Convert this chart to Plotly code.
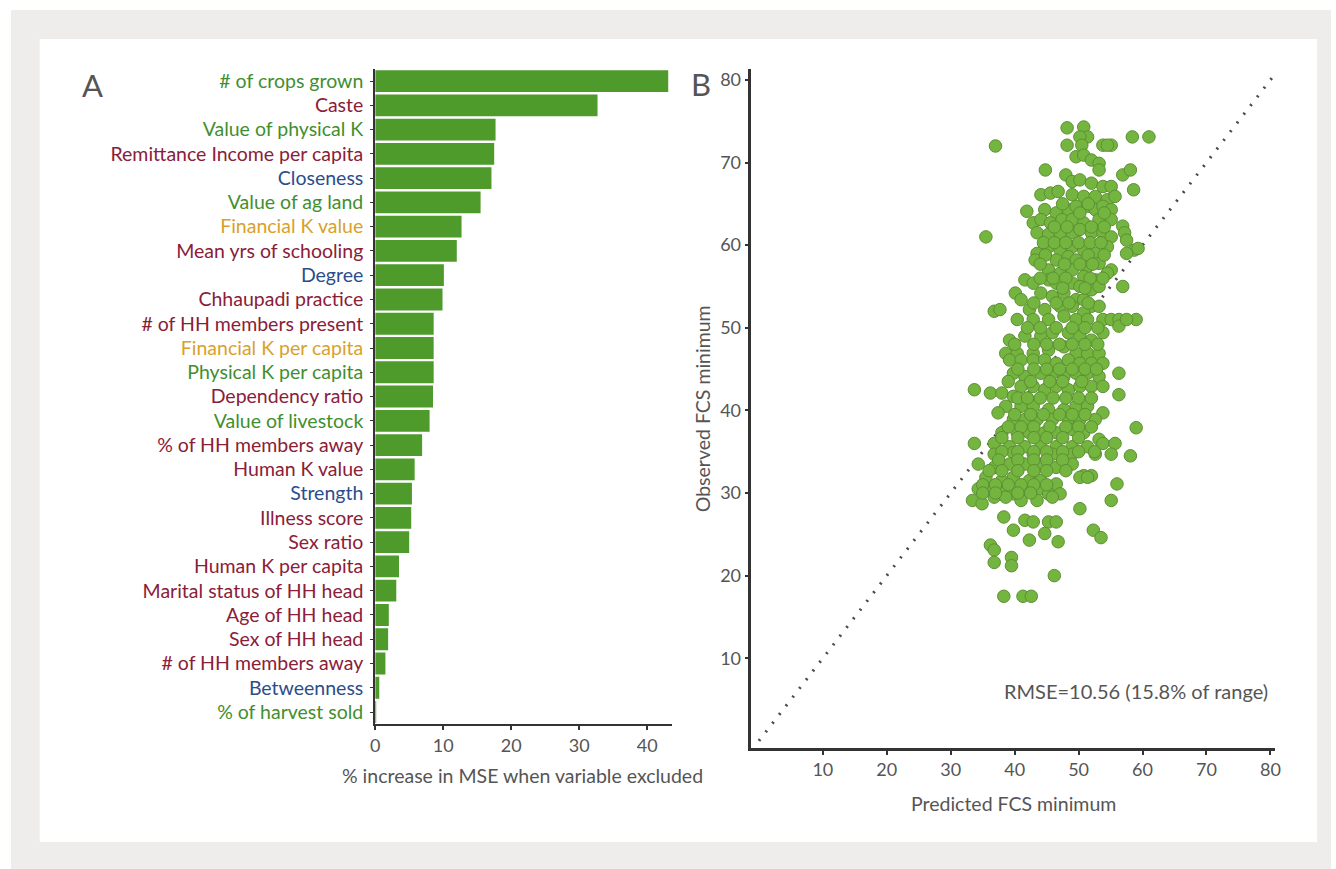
import plotly.graph_objects as go

# ---------------- Panel A data ----------------
categories = [
    "# of crops grown", "Caste", "Value of physical K", "Remittance Income per capita",
    "Closeness", "Value of ag land", "Financial K value", "Mean yrs of schooling",
    "Degree", "Chhaupadi practice", "# of HH members present", "Financial K per capita",
    "Physical K per capita", "Dependency ratio", "Value of livestock", "% of HH members away",
    "Human K value", "Strength", "Illness score", "Sex ratio", "Human K per capita",
    "Marital status of HH head", "Age of HH head", "Sex of HH head", "# of HH members away",
    "Betweenness", "% of harvest sold",
]
mse_increase = [
    43.1, 32.7, 17.7, 17.5, 17.1, 15.5, 12.7, 12.0, 10.1, 9.9, 8.6, 8.6, 8.6, 8.5, 8.0,
    6.9, 5.8, 5.4, 5.3, 5.0, 3.5, 3.1, 2.0, 1.9, 1.5, 0.6, 0.1,
]
capital_type = [
    "natural", "human", "natural", "human", "network", "natural", "financial", "human",
    "network", "human", "human", "financial", "natural", "human", "natural", "human",
    "human", "network", "human", "human", "human", "human", "human", "human", "human",
    "network", "natural",
]
type_colors = {"natural": "#3f8f2f", "human": "#8a2038", "network": "#2c4d8c", "financial": "#d9a12b"}
bar_ticks = [0, 10, 20, 30, 40]

# ---------------- Panel B data ----------------
points = [
    (48.2, 74.2), (50.8, 74.3), (51.4, 73.1), (50.2, 73.1), (48.2, 72.1), (50.5, 72.1), (53.8, 72.1),
    (55.1, 72.1), (54.5, 72.1), (58.4, 73.1), (61.0, 73.1), (37.0, 72.0),
    (49.6, 70.7), (50.8, 70.9), (52.0, 70.3), (53.2, 69.9), (53.2, 69.1), (44.8, 69.1), (48.0, 68.5),
    (56.9, 68.5), (58.1, 69.1),
    (49.0, 67.7), (50.2, 67.9), (52.0, 67.5), (53.8, 67.1), (55.1, 67.1), (58.6, 66.7),
    (44.1, 66.1), (45.6, 66.3), (46.8, 66.5), (49.0, 66.1), (50.8, 65.9), (52.6, 65.9), (54.5, 65.5), (55.7, 65.9),
    (41.9, 64.1), (44.7, 64.3), (46.5, 63.9), (48.4, 64.3), (49.6, 64.7), (51.4, 64.7), (52.6, 64.3), (53.8, 64.7), (55.1, 64.3),
    (42.9, 62.7), (44.1, 63.1), (45.6, 62.7), (47.4, 63.1), (49.0, 63.1), (50.8, 62.7), (53.2, 63.1), (55.1, 63.1),
    (56.9, 62.3), (57.2, 61.5),
    (43.5, 61.5), (45.3, 61.3), (47.1, 61.5), (49.0, 61.5), (50.2, 61.9), (52.0, 61.5), (53.8, 61.5), (55.1, 61.0),
    (35.5, 61.0),
    (57.5, 60.6), (58.7, 59.4), (59.3, 59.6), (57.5, 59.0),
    (43.5, 59.0), (43.2, 58.2), (45.3, 59.8), (47.1, 59.4), (49.0, 59.8), (50.8, 59.4), (52.6, 59.0), (54.5, 59.8),
    (46.5, 58.2), (48.4, 58.6), (49.6, 58.2), (51.4, 57.4), (53.2, 57.8), (55.1, 57.0),
    (45.3, 57.0), (47.1, 56.6), (49.0, 57.0), (50.8, 56.2), (52.6, 55.8), (54.5, 56.6),
    (41.6, 55.8), (42.9, 55.4),
    (45.3, 55.8), (46.5, 55.4), (49.0, 55.4), (50.2, 55.0), (52.0, 54.6), (53.2, 55.0),
    (56.9, 55.0),
    (40.1, 54.2), (41.0, 53.4),
    (44.1, 54.2), (45.9, 53.8), (47.7, 54.2), (49.6, 53.4), (50.8, 53.4), (52.0, 52.6), (53.2, 52.6),
    (36.8, 52.0), (37.7, 52.2),
    (42.3, 52.2), (44.7, 52.2), (47.1, 52.6), (49.0, 52.6), (50.8, 51.8),
    (40.4, 51.0), (42.9, 51.0), (45.3, 51.0), (47.7, 51.4), (49.6, 51.0), (51.4, 51.0), (53.8, 51.0),
    (55.1, 51.0), (56.3, 51.0), (59.0, 51.0), (56.3, 50.2), (57.5, 51.0),
    (39.2, 48.5), (41.6, 49.0), (44.1, 49.0), (45.9, 49.4), (48.4, 49.4), (50.2, 49.0), (52.0, 48.5), (53.8, 49.4),
    (38.6, 46.9), (40.4, 46.9), (42.9, 46.9), (45.3, 47.3), (47.7, 47.7), (49.6, 46.9), (51.4, 46.9), (53.2, 46.9),
    (39.2, 46.1), (41.0, 46.1), (42.9, 46.1), (44.7, 46.1), (46.5, 45.7), (48.4, 46.1), (50.2, 45.7), (52.0, 45.7), (53.8, 45.7),
    (56.3, 44.5),
    (39.8, 44.5), (41.6, 44.1), (44.1, 44.5), (45.9, 44.5), (47.7, 44.1), (49.6, 44.5), (51.4, 44.5), (53.2, 44.1),
    (41.0, 42.9), (42.9, 42.9), (44.7, 42.5), (46.5, 42.9), (48.4, 42.5), (50.2, 42.9), (52.0, 42.9), (53.8, 42.9),
    (33.7, 42.5), (36.2, 42.1), (38.0, 42.1), (39.8, 41.7),
    (56.3, 41.9),
    (38.6, 40.5), (41.0, 40.5), (42.9, 40.5), (45.3, 40.1), (47.7, 40.1), (49.6, 40.5), (51.4, 40.5), (53.8, 39.7),
    (37.4, 39.7), (39.8, 38.9), (41.6, 38.9), (43.5, 38.9), (45.9, 38.9), (48.4, 38.9), (50.2, 38.9), (52.6, 38.9),
    (59.0, 37.9),
    (38.0, 37.3), (40.4, 37.3), (42.3, 37.3), (44.7, 37.3), (46.5, 37.3), (49.0, 37.7), (50.8, 37.3), (53.2, 36.5),
    (33.7, 36.0),
    (36.8, 36.0), (39.2, 35.6), (41.6, 35.6), (44.1, 35.6), (46.5, 35.6), (49.0, 35.6), (51.4, 35.6), (53.8, 36.0), (55.7, 36.0),
    (36.8, 34.7), (39.8, 34.9), (42.9, 34.7), (45.9, 34.7), (49.0, 34.7), (52.6, 34.7), (55.1, 34.7), (58.1, 34.5),
    (34.3, 33.5), (36.8, 33.1), (39.2, 33.5), (41.6, 33.5), (44.1, 33.5), (46.5, 33.1), (49.0, 33.5), (50.8, 32.1), (52.0, 32.1),
    (35.5, 31.9), (38.0, 31.5), (39.8, 31.9), (42.3, 31.5), (44.1, 31.5), (46.5, 31.1), (50.2, 31.9), (51.4, 31.9),
    (56.0, 31.1),
    (34.3, 30.5), (36.2, 30.3), (38.0, 29.9), (39.8, 29.9), (41.6, 30.3), (43.5, 30.3), (45.3, 29.9), (47.1, 29.9),
    (33.4, 29.1), (34.9, 28.7), (36.8, 29.5), (38.6, 29.5), (41.0, 29.1), (43.5, 29.1), (45.9, 29.5),
    (50.2, 28.1), (55.1, 29.1),
    (38.3, 27.1), (41.6, 26.7), (42.9, 26.5), (39.8, 25.5), (45.3, 26.5), (46.5, 26.5), (44.7, 25.1), (46.8, 24.1),
    (42.3, 24.3), (52.3, 25.5), (53.5, 24.6), (36.2, 23.7), (36.8, 23.1), (39.5, 22.2), (39.5, 21.2), (36.8, 21.6),
    (46.2, 20.0), (38.3, 17.5), (41.3, 17.5), (42.6, 17.5),
    # dense core
    (47.5, 65.0), (51.5, 65.0), (50.2, 63.9), (54.0, 63.9),
    (46.2, 62.2), (48.2, 62.2), (52.0, 62.2), (54.0, 62.2),
    (44.5, 60.3), (46.2, 60.3), (48.0, 60.3), (50.0, 60.3), (51.8, 60.3), (53.5, 60.3),
    (44.8, 58.8), (51.5, 58.8), (54.0, 58.8),
    (44.0, 57.7), (47.8, 57.7), (50.2, 57.7), (52.2, 57.7),
    (44.0, 56.0), (46.0, 56.0), (48.0, 56.0), (51.8, 56.0), (53.8, 56.0),
    (47.5, 54.8), (51.0, 54.8),
    (43.0, 53.0), (46.5, 53.0), (48.5, 53.0), (51.5, 53.0),
    (42.0, 50.0), (44.0, 50.0), (46.5, 50.0), (49.0, 50.0), (51.0, 50.0), (53.0, 50.0),
    (40.0, 48.0), (43.0, 48.0), (45.0, 48.0), (47.0, 48.0), (49.0, 48.0), (51.0, 48.0), (53.0, 48.0),
    (40.5, 45.0), (43.0, 45.0), (45.0, 45.0), (47.0, 45.0), (49.0, 45.0), (51.0, 45.0), (52.8, 45.0),
    (39.0, 43.5), (42.5, 43.5), (45.5, 43.5), (47.5, 43.5), (50.5, 43.5),
    (40.5, 41.5), (42.0, 41.5), (44.0, 41.5), (46.0, 41.5), (48.0, 41.5), (50.0, 41.5), (52.0, 41.5),
    (40.0, 39.5), (42.5, 39.5), (44.5, 39.5), (47.0, 39.5), (49.0, 39.5), (51.0, 39.5),
    (39.0, 38.0), (41.0, 38.0), (43.0, 38.0), (45.5, 38.0), (48.0, 38.0), (50.0, 38.0), (52.0, 38.0),
    (38.0, 36.7), (40.5, 36.7), (43.0, 36.7), (45.0, 36.7), (47.5, 36.7), (50.0, 36.7),
    (38.0, 35.0), (40.5, 35.0), (43.0, 35.0), (45.0, 35.0), (47.5, 35.0), (50.0, 35.0), (52.5, 35.0),
    (37.5, 34.0), (40.5, 34.0), (43.0, 34.0), (45.0, 34.0), (47.5, 34.0),
    (36.0, 32.7), (38.0, 32.7), (40.5, 32.7), (43.0, 32.7), (45.0, 32.7), (48.0, 32.7),
    (35.0, 31.0), (37.0, 31.0), (39.0, 31.0), (41.0, 31.0), (43.0, 31.0), (45.0, 31.0),
    (35.0, 30.0), (37.0, 30.0), (40.5, 30.0), (42.5, 30.0),
]
predicted = [p[0] for p in points]
observed = [p[1] for p in points]
identity_line = [0.0, 80.5]
scatter_ticks = [10, 20, 30, 40, 50, 60, 70, 80]
rmse_label = "RMSE=10.56 (15.8% of range)"

# ---------------- Layout helpers ----------------
W, H = 1336, 869
def px(x):
    return x / W
def py(y):
    return 1 - y / H

FONT = "Lato, 'Open Sans', sans-serif"
AXIS = "#333333"
TXT = "#555555"

ticktext = [f"<span style='color:{type_colors[t]}'>{c}</span>" for c, t in zip(categories, capital_type)]

fig = go.Figure()

fig.add_trace(go.Bar(
    x=mse_increase, y=categories, orientation="h",
    marker=dict(color="#4e9a2b", line=dict(width=0)),
    xaxis="x", yaxis="y", showlegend=False,
))

fig.add_trace(go.Scatter(
    x=identity_line, y=identity_line, mode="lines",
    line=dict(color="#4a4a4a", width=3, dash="2px,9px"),
    xaxis="x2", yaxis="y2", showlegend=False,
))

fig.add_trace(go.Scatter(
    x=predicted, y=observed, mode="markers",
    marker=dict(size=12.5, color="#74b53f", line=dict(color="#5c8f34", width=1)),
    xaxis="x2", yaxis="y2", showlegend=False,
))

fig.update_layout(
    width=W, height=H,
    margin=dict(l=0, r=0, t=0, b=0),
    paper_bgcolor="white",
    plot_bgcolor="rgba(0,0,0,0)",
    font=dict(family=FONT, size=18, color=TXT),
    bargap=0.1,
    xaxis=dict(
        domain=[px(373), px(672)], anchor="y",
        range=[0, 43.65], tickvals=bar_ticks,
        showline=True, linecolor=AXIS, linewidth=2,
        ticks="outside", ticklen=4, tickcolor=AXIS, tickwidth=1.5,
        showgrid=False, zeroline=False,
        tickfont=dict(size=18, color=TXT),
    ),
    yaxis=dict(
        domain=[py(724), py(68)], anchor="x",
        type="category", categoryorder="array", categoryarray=categories,
        range=[len(categories) - 0.5, -0.5],
        tickvals=categories, ticktext=ticktext,
        showline=True, linecolor=AXIS, linewidth=2,
        ticks="outside", ticklen=3, tickcolor=AXIS, tickwidth=1,
        ticklabelstandoff=3,
        showgrid=False, zeroline=False,
        tickfont=dict(size=19.5),
    ),
    xaxis2=dict(
        domain=[px(752), px(1280)], anchor="y2",
        range=[-1.18, 80.78], tickvals=scatter_ticks,
        showline=True, linecolor=AXIS, linewidth=2.5,
        ticks="outside", ticklen=4, tickcolor=AXIS, tickwidth=1.5,
        showgrid=False, zeroline=False,
        tickfont=dict(size=18, color=TXT),
    ),
    yaxis2=dict(
        domain=[py(748), py(68)], anchor="x2",
        range=[-0.88, 81.33], tickvals=scatter_ticks,
        showline=True, linecolor=AXIS, linewidth=2.5,
        ticks="outside", ticklen=4, tickcolor=AXIS, tickwidth=1.5,
        showgrid=False, zeroline=False,
        tickfont=dict(size=18, color=TXT),
    ),
    shapes=[
        dict(type="rect", xref="paper", yref="paper", x0=px(6), x1=1.0, y0=0.0, y1=py(9),
             fillcolor="#eeedeb", line=dict(width=0), layer="below"),
        dict(type="rect", xref="paper", yref="paper", x0=px(35), x1=px(1322), y0=py(842), y1=py(38),
             fillcolor="white", line=dict(width=0), layer="below"),
    ],
    annotations=[
        dict(text="A", x=px(88), y=py(84), xref="paper", yref="paper", showarrow=False,
             font=dict(size=31, color="#555555"), xanchor="center", yanchor="middle"),
        dict(text="B", x=px(701), y=py(83), xref="paper", yref="paper", showarrow=False,
             font=dict(size=31, color="#555555"), xanchor="center", yanchor="middle"),
        dict(text="% increase in MSE when variable excluded", x=px(521), y=py(775), xref="paper", yref="paper",
             showarrow=False, font=dict(size=19.5, color=TXT), xanchor="center", yanchor="middle"),
        dict(text="Predicted FCS minimum", x=px(1016), y=py(803), xref="paper", yref="paper",
             showarrow=False, font=dict(size=19.5, color=TXT), xanchor="center", yanchor="middle"),
        dict(text="Observed FCS minimum", x=px(703), y=py(408), xref="paper", yref="paper", textangle=-90,
             showarrow=False, font=dict(size=19.5, color=TXT), xanchor="center", yanchor="middle"),
        dict(text=rmse_label, x=80, y=6.0, xref="x2", yref="y2",
             showarrow=False, font=dict(size=20, color=TXT), xanchor="right", yanchor="middle"),
    ],
)

fig.write_html(
    "out.html",
    config={"displayModeBar": False},
    post_script="document.body.style.margin='0';document.body.style.overflow='hidden';",
)
